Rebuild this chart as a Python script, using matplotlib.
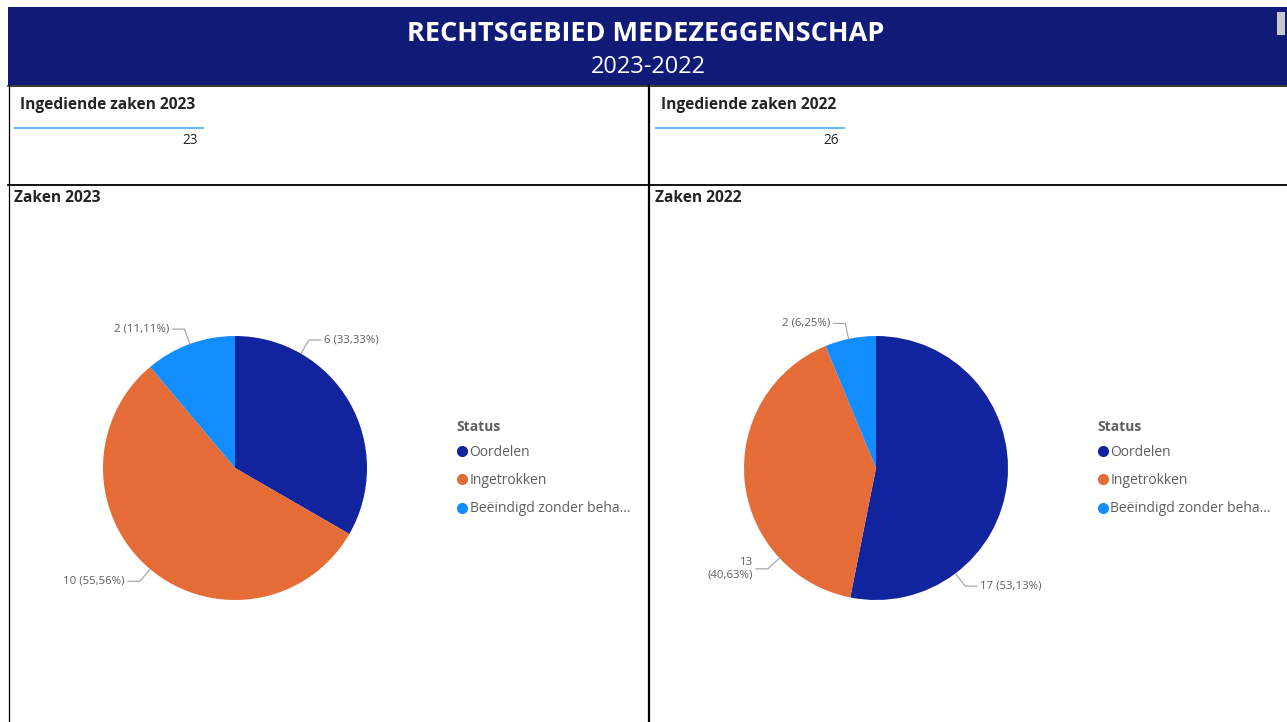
import numpy as np
import matplotlib.pyplot as plt
from matplotlib.patches import Rectangle
from matplotlib.lines import Line2D
from decimal import Decimal, ROUND_HALF_UP

plt.rcParams['font.family'] = ['Open Sans', 'DejaVu Sans']

# data
title = "RECHTSGEBIED MEDEZEGGENSCHAP"
subtitle = "2023-2022"
years = ["2023", "2022"]
ingediend = [23, 26]
status = ["Oordelen", "Ingetrokken", "Beëindigd zonder behandeling"]
zaken_2023 = [6, 10, 2]
zaken_2022 = [17, 13, 2]
colors = ['#12239E', '#E66C37', '#118DFF']

# layout (pixels of the 1287x722 canvas)
W, H = 1287, 722
panel_x = [8, 649]
pie_r = 132
label_angles = [[30, 220, 340], [143, 227, 348]]   # where Power BI put the labels
wrapped = [[], [1]]

TXT = '#252423'
GREY = '#605E5C'


def pct(v, total):
    d = (Decimal(v) * 100 / Decimal(total)).quantize(Decimal('0.01'), ROUND_HALF_UP)
    return str(d).replace('.', ',')


def short(s, n=21):
    return s if len(s) <= n else s[:n] + '...'


fig = plt.figure(figsize=(W / 100, H / 100), dpi=100)
bg = fig.add_axes([0, 0, 1, 1])
bg.set_xlim(0, W)
bg.set_ylim(H, 0)
bg.axis('off')

# header band
bg.add_patch(Rectangle((8, 7), W - 8, 78, fc='#0F1B77', ec='none'))
bg.add_patch(Rectangle((1277, 12), 8, 23, fc='#C8C8C8', ec='none'))
bg.text(646, 34, title, color='white', fontsize=19.5, fontweight='bold', ha='center', va='center')
bg.text(648, 67, subtitle, color='white', fontsize=17, ha='center', va='center')

# panel borders
bg.plot([8, W], [86, 86], color='black', lw=1.1)
bg.plot([8, W], [185, 185], color='black', lw=1.3)
bg.plot([8.5, 8.5], [85, H], color='black', lw=0.9)
bg.plot([649, 649], [85, H], color='black', lw=1.6)

for i, px in enumerate(panel_x):
    vals = [zaken_2023, zaken_2022][i]
    year = years[i]

    # card
    bg.text(px + 12, 105, f"Ingediende zaken {year}", color=TXT, fontsize=11.2,
            fontweight='bold', ha='left', va='center')
    bg.plot([px + 7, px + 195], [128, 128], color='#6CB8F6', lw=1.5)
    bg.text(px + 190, 141, str(ingediend[i]), color=TXT, fontsize=9.8, ha='right', va='center')

    bg.text(px + 6, 198, f"Zaken {year}", color=TXT, fontsize=11.2,
            fontweight='bold', ha='left', va='center')

    # pie
    cx, cy = px + 227, 468
    L = 1.5
    S = 2 * L * pie_r
    ax = fig.add_axes([(cx - S / 2) / W, 1 - (cy + S / 2) / H, S / W, S / H])
    ax.pie(vals, colors=colors, startangle=90, counterclock=False, radius=1,
           wedgeprops=dict(linewidth=0))
    ax.set_xlim(-L, L)
    ax.set_ylim(-L, L)
    ax.set_aspect('equal')
    ax.axis('off')

    total = sum(vals)
    for j, v in enumerate(vals):
        t = np.radians(label_angles[i][j])
        x0, y0 = np.sin(t), np.cos(t)
        x1, y1 = 1.12 * x0, 1.12 * y0
        side = 1 if x0 > 0 else -1
        x2 = x1 + side * 0.09
        ax.plot([x0, x1, x2], [y0, y1, y1], color='#A19F9D', lw=0.8, clip_on=False)
        lab = f"{v} ({pct(v, total)}%)"
        if j in wrapped[i]:
            lab = lab.replace(' (', '\n(')
        ax.text(x2 + side * 0.025, y1, lab, ha='left' if side > 0 else 'right',
                va='center', fontsize=8.2, color=GREY, multialignment='right',
                clip_on=False)

    # legend
    bg.text(px + 448, 427, 'Status', color=GREY, fontsize=10, fontweight='bold',
            ha='left', va='center')
    handles = [Line2D([], [], marker='o', ls='', ms=7, mfc=c, mec=c) for c in colors]
    leg = ax.legend(handles, [short(s) for s in status], loc='upper left',
                    bbox_to_anchor=((px + 449) / W, 1 - 445 / H), bbox_transform=fig.transFigure,
                    frameon=False, fontsize=10,
                    handlelength=0.7, handletextpad=0.2, labelspacing=0.95,
                    borderpad=0, borderaxespad=0)
    for tx in leg.get_texts():
        tx.set_color(GREY)

fig.savefig('out.png', dpi=100)
